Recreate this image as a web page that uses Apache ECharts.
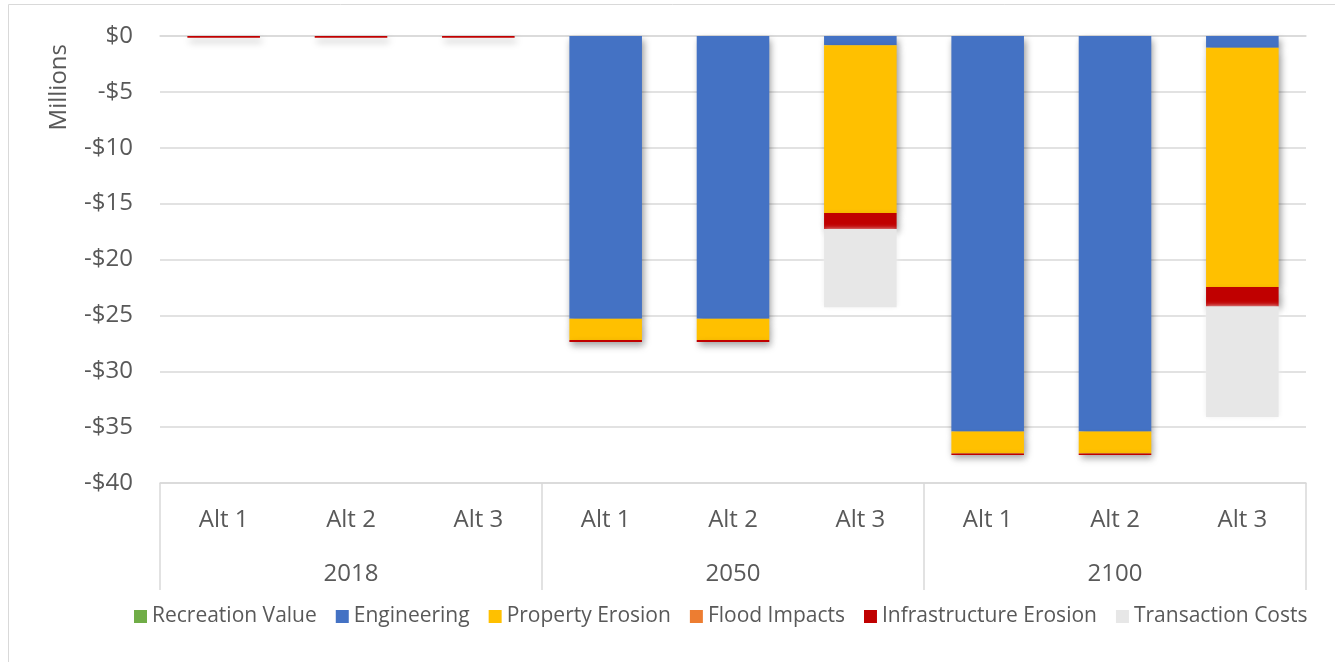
<!DOCTYPE html>
<html><head><meta charset="utf-8">
<script src="https://cdn.jsdelivr.net/npm/echarts@6/dist/echarts.min.js"></script>
<style>html,body{margin:0;padding:0;background:#fff}#c{width:1335px;height:662px}</style>
</head><body><div id="c"></div>
<script>
const categories = ['Alt 1','Alt 2','Alt 3','Alt 1','Alt 2','Alt 3','Alt 1','Alt 2','Alt 3'];
const years = ['2018','2050','2100'];
const yTicks = [0,-5,-10,-15,-20,-25,-30,-35,-40];
const recreationValue = [0,0,0,0,0,0,0,0,0];
const engineering = [0,0,0,-25.3,-25.3,-0.83,-35.4,-35.4,-1.05];
const propertyErosion = [0,0,0,-1.9,-1.9,-15.0,-1.95,-1.95,-21.4];
const floodImpacts = [0,0,0,0,0,0,0,0,0];
const infrastructureErosion = [-0.15,-0.15,-0.15,-0.18,-0.18,-1.45,-0.15,-0.15,-1.75];
const transactionCosts = [0,0,0,0,0,-7.0,0,0,-9.9];

const FONT = 'Open Sans';
const TXT = '#595959';
const shadow = {shadowColor:'rgba(0,0,0,0.4)',shadowBlur:7,shadowOffsetX:2,shadowOffsetY:4};
function s(name, data, color, extra){
  return Object.assign({name, type:'bar', stack:'a', data, barWidth:'57%', xAxisIndex:0,
    itemStyle:Object.assign({color}, shadow), emphasis:{disabled:true}}, extra||{});
}
const chart = echarts.init(document.getElementById('c'), null, {renderer:'canvas'});
chart.setOption({
  animation:false,
  textStyle:{fontFamily:FONT},
  graphic:[{type:'rect',shape:{x:8.5,y:4.5,width:1340,height:670},style:{fill:'none',stroke:'#d9d9d9',lineWidth:1},silent:true}],
  grid:{left:160,right:29,top:36,bottom:179},
  legend:{bottom:30,left:129,itemWidth:13,itemHeight:13,itemGap:19,icon:'rect',
    textStyle:{fontFamily:FONT,fontSize:21,color:TXT},
    data:['Recreation Value','Engineering','Property Erosion','Flood Impacts','Infrastructure Erosion','Transaction Costs']},
  xAxis:[
    {type:'category',data:categories,position:'bottom',
     axisLine:{lineStyle:{color:'#d9d9d9',width:1.5}},axisTick:{show:false},
     axisLabel:{fontFamily:FONT,fontSize:24,color:TXT,margin:25,interval:0}},
    {type:'category',data:years,position:'bottom',
     axisLine:{show:true,lineStyle:{color:'#d9d9d9',width:1.5}},
     axisTick:{show:true,length:107,lineStyle:{color:'#d9d9d9',width:1.5}},
     axisLabel:{fontFamily:FONT,fontSize:24,color:TXT,margin:79}}
  ],
  yAxis:{type:'value',min:-40,max:0,interval:5,name:'Millions',nameLocation:'end',nameRotate:90,
    nameGap:0,
    nameTextStyle:{fontFamily:FONT,fontSize:24,color:TXT,align:'right',verticalAlign:'bottom',padding:[0,8,89,0]},
    axisLine:{show:false},axisTick:{show:false},
    splitLine:{lineStyle:{color:'#d9d9d9',width:1.5}},
    axisLabel:{fontFamily:FONT,fontSize:24,color:TXT,margin:27,
      formatter:v=>v===0?'$0':'-$'+Math.abs(v)}},
  series:[
    s('Recreation Value',recreationValue,'#70ad47'),
    s('Engineering',engineering,'#4472c4'),
    s('Property Erosion',propertyErosion,'#ffc000'),
    s('Flood Impacts',floodImpacts,'#ed7d31'),
    s('Infrastructure Erosion',infrastructureErosion,'#c00000'),
    s('Transaction Costs',transactionCosts,'#e7e7e7',{itemStyle:{color:'#e7e7e7',shadowColor:'#eeeeee',shadowBlur:5}})
  ]
});
</script></body></html>
